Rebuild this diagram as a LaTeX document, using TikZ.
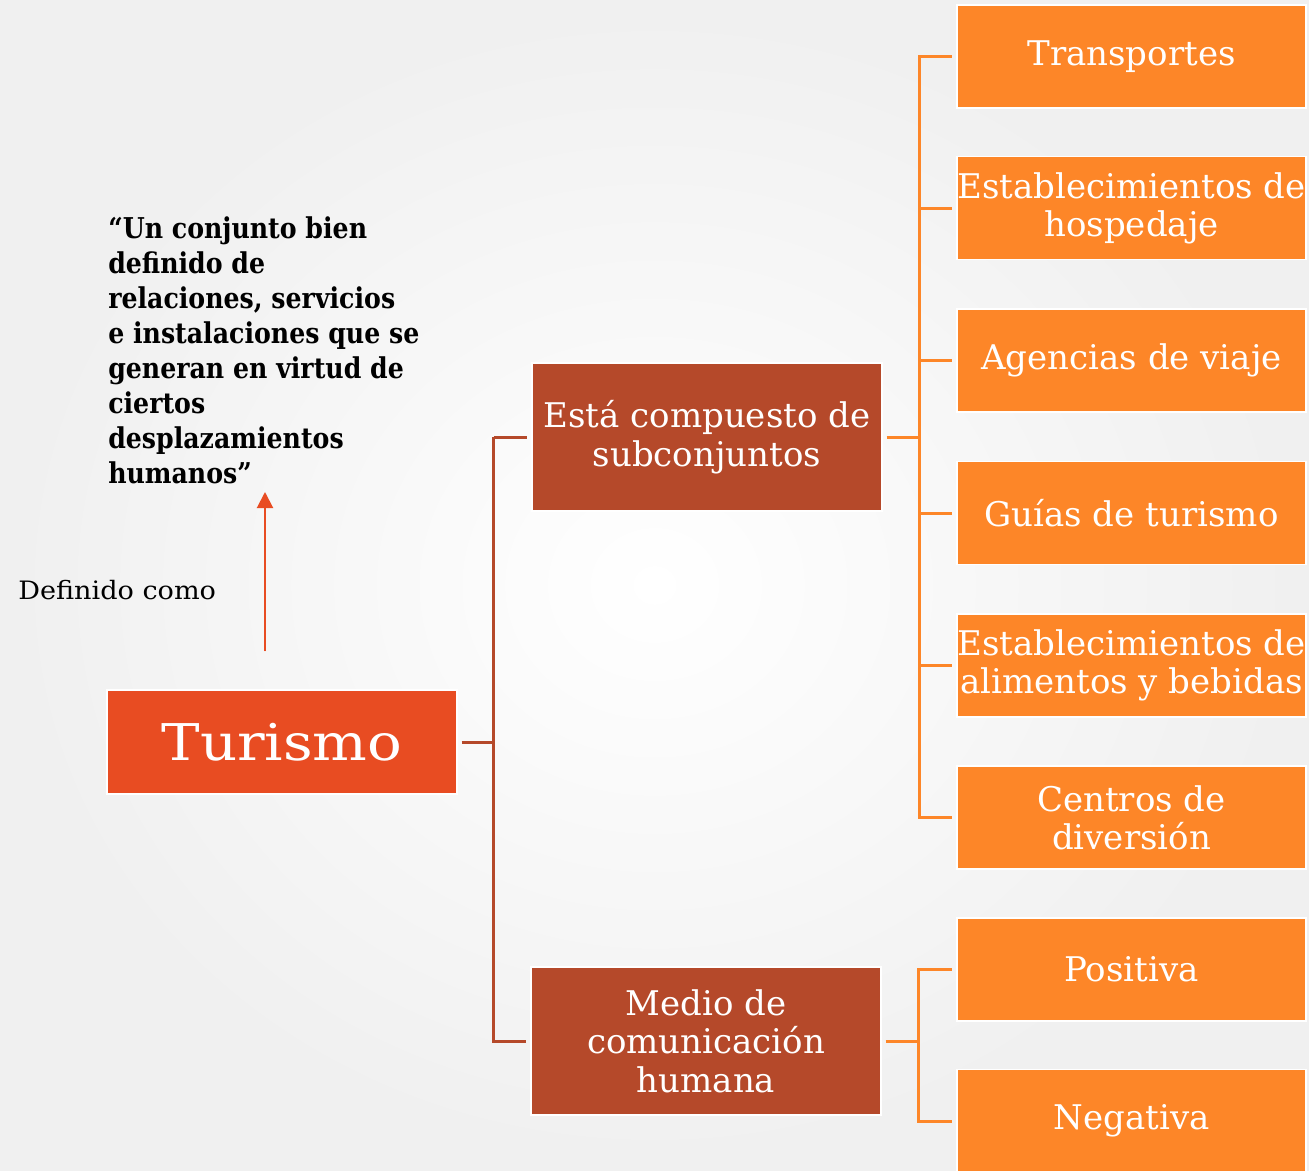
\documentclass[tikz,border=0pt]{standalone}
\usepackage{fontspec}
\setmainfont{DejaVu Serif}
\newfontfamily\anchafont[FakeStretch=1.14]{DejaVu Serif}
\newfontfamily\comofont[FakeStretch=1.07]{DejaVu Serif}
\newfontfamily\citafont[FakeStretch=0.88]{DejaVu Serif Bold}
\usetikzlibrary{arrows.meta}
\definecolor{turcolor}{HTML}{E84C22}
\definecolor{ramacolor}{HTML}{B5492A}
\definecolor{hojacolor}{HTML}{FD8628}
\begin{document}
\begin{tikzpicture}[x=0.75pt,y=-0.75pt,
  caja/.style={fill=#1,draw=white,line width=1pt,inner sep=0pt,align=center,text=white},
  hoja/.style={caja=hojacolor,minimum width=261.75pt,minimum height=77.25pt,font=\fontsize{25.5}{28.5}\selectfont},
  rama/.style={caja=ramacolor,minimum width=262.5pt,minimum height=111pt,font=\fontsize{25.5}{29}\selectfont},
  enlace/.style={line width=2.25pt,draw=#1}]

\shade[inner color=white,outer color=black!6] (0,0) rectangle (1309,1170);
\useasboundingbox (0,0) rectangle (1309,1170);

\node[caja=turcolor,minimum width=262.5pt,minimum height=78pt,font=\anchafont\fontsize{38}{40}\selectfont] (tur) at (282,742) {Turismo};
\node[rama] (sub) at (707,437) {Está compuesto de\\subconjuntos};
\node[rama] (med) at (706,1041) {Medio de\\comunicación\\humana};

\node[hoja] (h1) at (1131.5,56.5) {Transportes};
\node[hoja] (h2) at (1131.5,208) {Establecimientos de\\hospedaje};
\node[hoja] (h3) at (1131.5,360.5) {Agencias de viaje};
\node[hoja] (h4) at (1131.5,513) {Guías de turismo};
\node[hoja] (h5) at (1131.5,665.5) {Establecimientos de\\alimentos y bebidas};
\node[hoja] (h6) at (1131.5,817.5) {Centros de\\diversión};
\node[hoja] (p1) at (1131.5,969.5) {Positiva};
\node[hoja] (p2) at (1131.5,1121) {Negativa};

\node[anchor=north west,inner sep=0pt,align=left,font=\citafont\fontsize{21.5}{26.25}\selectfont] (def) at (108,216)
  {“Un conjunto bien\\definido de\\relaciones, servicios\\e instalaciones que se\\generan en virtud de\\ciertos\\desplazamientos\\humanos”};
\node[anchor=west,inner sep=0pt,font=\comofont\fontsize{19}{22}\selectfont] (como) at (18,590) {Definido como};

\coordinate (punta) at (265,492);
\draw[-{Triangle[length=12pt,width=12pt]},line width=1.5pt,draw=turcolor,fill=turcolor,shorten <=28.5pt]
  (tur.north -| punta) -- (punta);

\draw[enlace=ramacolor] ([xshift=3pt]tur.east) -- ++(32,0) coordinate (j1);
\draw[enlace=ramacolor] (j1 |- sub.west) |- ([xshift=-3pt]sub.west);
\draw[enlace=ramacolor] (j1 |- sub.west) |- ([xshift=-3pt]med.west);

\draw[enlace=hojacolor] ([xshift=3pt]sub.east) -- ++(33,0) coordinate (j2);
\foreach \h in {h1,h2,h3,h4,h5,h6}
  \draw[enlace=hojacolor] (j2) |- ([xshift=-3pt]\h.west);
\draw[enlace=hojacolor] ([xshift=3pt]med.east) -- ++(33,0) coordinate (j3);
\foreach \h in {p1,p2}
  \draw[enlace=hojacolor] (j3) |- ([xshift=-3pt]\h.west);

\end{tikzpicture}
\end{document}
